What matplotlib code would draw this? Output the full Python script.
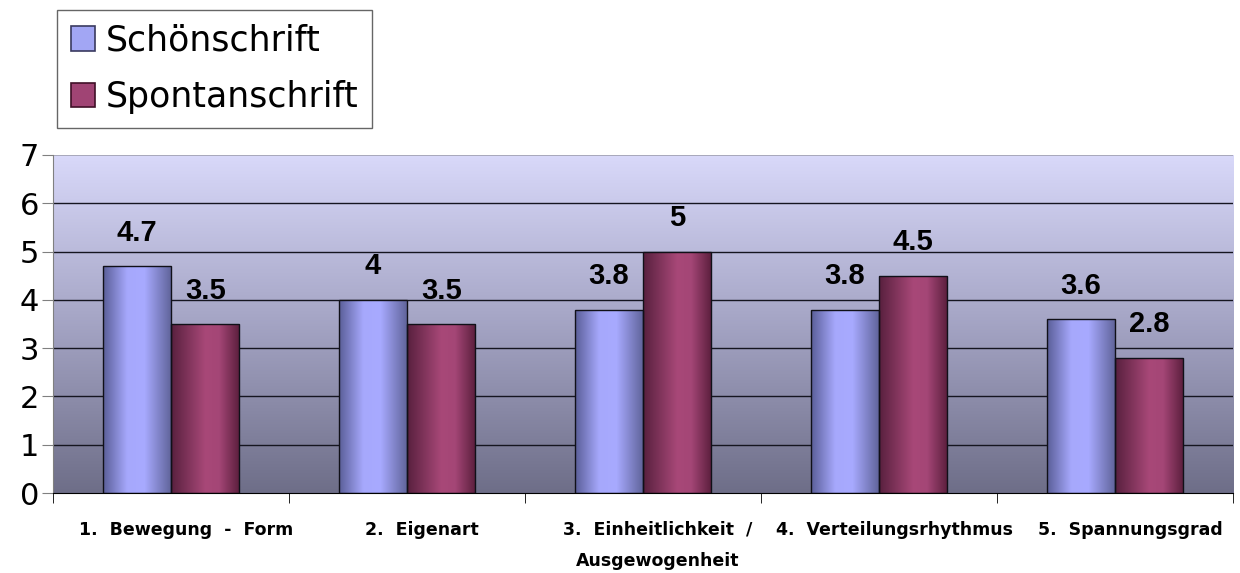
import matplotlib.pyplot as plt
import matplotlib.transforms as mtransforms
import numpy as np
from matplotlib.colors import LinearSegmentedColormap
from matplotlib.patches import Patch
from matplotlib.font_manager import FontProperties

categories = ["1.  Bewegung  -  Form", "2.  Eigenart",
              "3.  Einheitlichkeit  /\nAusgewogenheit",
              "4.  Verteilungsrhythmus", "5.  Spannungsgrad"]
series_names = ["Schönschrift", "Spontanschrift"]
schoen = [4.7, 4.0, 3.8, 3.8, 3.6]
spontan = [3.5, 3.5, 5.0, 4.5, 2.8]
value_labels_schoen = ["4.7", "4", "3.8", "3.8", "3.6"]
value_labels_spontan = ["3.5", "3.5", "5", "4.5", "2.8"]

plt.rcParams['font.family'] = ['DejaVu Sans']
val_font = FontProperties(family="Liberation Sans", weight="bold",
                          stretch="normal", size=21)

fig = plt.figure(figsize=(12.4, 5.73), dpi=100)
ax = fig.add_axes([0.0427, 0.1396, 0.9517, 0.5899])

x = np.arange(len(categories))
w = 0.29

# background gradient
bg = LinearSegmentedColormap.from_list("bg", ["#6e6e88", "#a4a4c4", "#d9d9fa"])
grad = np.linspace(0, 1, 256).reshape(-1, 1)
ax.imshow(grad, cmap=bg, origin="lower", aspect="auto",
          extent=[-0.5, len(categories) - 0.5, 0, 7], zorder=0)

for yv in range(1, 7):
    ax.axhline(yv, color="#151520", lw=1, zorder=1)

blue_cm = LinearSegmentedColormap.from_list(
    "b", [(0, "#5a5e98"), (0.35, "#a6a8fc"), (0.6, "#a8aaff"), (1, "#5e6298")])
red_cm = LinearSegmentedColormap.from_list(
    "r", [(0, "#58203e"), (0.5, "#a84878"), (0.7, "#a44676"), (1, "#5a1e3c")])
hgrad = np.linspace(0, 1, 256).reshape(1, -1)

def gradient_bars(xs, vals, cmap):
    bars = ax.bar(xs, vals, w, facecolor="none", edgecolor="#101018", lw=1, zorder=3)
    for b in bars:
        x0, y0 = b.get_x(), b.get_y()
        im = ax.imshow(hgrad, cmap=cmap, aspect="auto",
                       extent=[x0, x0 + b.get_width(), y0, y0 + b.get_height()],
                       zorder=2)
        im.set_clip_path(b)
    return bars

bars1 = gradient_bars(x - w / 2, schoen, blue_cm)
bars2 = gradient_bars(x + w / 2, spontan, red_cm)

for bars, labels in [(bars1, value_labels_schoen), (bars2, value_labels_spontan)]:
    for b, lab in zip(bars, labels):
        ax.annotate(lab, (b.get_x() + b.get_width() / 2, b.get_height()),
                    xytext=(0, 14), textcoords="offset points", ha="center",
                    va="bottom", fontproperties=val_font, zorder=5)

ax.set_xlim(-0.5, len(categories) - 0.5)
ax.set_ylim(0, 7)
ax.set_yticks(range(0, 8))
ax.tick_params(axis="y", labelsize=22, length=8, color="#808080", pad=2)
ax.set_xticks(x)
ax.set_xticklabels(categories, fontsize=12.5, fontweight="bold", linespacing=1.95)
ax.tick_params(axis="x", length=0, pad=20)
ax.set_xticks(np.arange(len(categories) + 1) - 0.5, minor=True)
ax.tick_params(axis="x", which="minor", length=7, color="black")
off = mtransforms.ScaledTranslation(15 / 100, 0, fig.dpi_scale_trans)
for t in ax.get_xticklabels():
    t.set_transform(t.get_transform() + off)

for s in ["top", "right"]:
    ax.spines[s].set_visible(False)
ax.spines["left"].set_color("#808080")
ax.spines["bottom"].set_color("black")
ax.axhline(7, color="#a0a0b0", lw=1.2, zorder=1)

handles = [Patch(facecolor="#a2a6f4", edgecolor="#3a3a60", lw=1.2),
           Patch(facecolor="#a04474", edgecolor="#401028", lw=1.2)]
leg = fig.legend(handles, series_names, loc="upper left",
                 bbox_to_anchor=(0.046, 0.983), fontsize=25, frameon=True,
                 fancybox=False, edgecolor="#404040", handlelength=0.7,
                 handleheight=0.7, handletextpad=0.3, labelspacing=0.65,
                 borderpad=0.4, borderaxespad=0)
leg.get_frame().set_linewidth(1)

fig.savefig("out.png", dpi=100)
